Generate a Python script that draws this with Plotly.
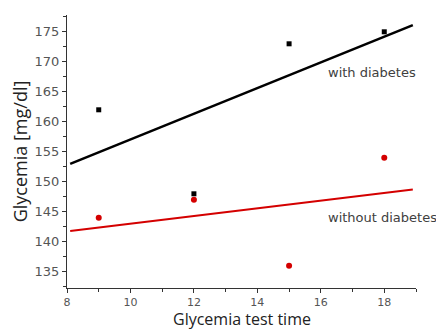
import plotly.graph_objects as go

time_x = [9, 12, 15, 18]
with_diabetes = [162, 148, 173, 175]
without_diabetes = [144, 147, 136, 154]
fit_x = [8.1, 18.9]
with_fit = [153.0, 176.1]
without_fit = [141.8, 148.7]

fig = go.Figure()
fig.add_trace(go.Scatter(x=fit_x, y=with_fit, mode="lines",
                         line=dict(color="black", width=2.5), showlegend=False))
fig.add_trace(go.Scatter(x=fit_x, y=without_fit, mode="lines",
                         line=dict(color="#d40000", width=2), showlegend=False))
fig.add_trace(go.Scatter(x=time_x, y=with_diabetes, mode="markers",
                         marker=dict(symbol="square", size=5, color="black"), showlegend=False))
fig.add_trace(go.Scatter(x=time_x, y=without_diabetes, mode="markers",
                         marker=dict(symbol="circle", size=6, color="#d40000"), showlegend=False))

fig.add_annotation(x=17.6, y=168.2, text="with diabetes", showarrow=False,
                   font=dict(family="DejaVu Sans", size=13, color="#404040"))
fig.add_annotation(x=17.95, y=144.0, text="without diabetes", showarrow=False,
                   font=dict(family="DejaVu Sans", size=13, color="#404040"))
fig.add_annotation(x=0.5, xref="paper", y=0, yref="paper", yshift=-43, yanchor="bottom",
                   text="Glycemia test time", showarrow=False, borderpad=0,
                   font=dict(family="Open Sans", size=16, color="#222"))

axis_common = dict(showgrid=False, zeroline=False, showline=True, linecolor="#333",
                   linewidth=1.2, ticks="outside", ticklen=4, tickwidth=1.2, tickcolor="#333",
                   automargin=False)
fig.update_xaxes(range=[8, 19], tickvals=[8, 10, 12, 14, 16, 18],
                 tickfont=dict(family="DejaVu Sans", size=11, color="#555"),
                 minor=dict(ticks="outside", ticklen=3, tickcolor="#333", dtick=1, tick0=8),
                 **axis_common)
fig.update_yaxes(range=[132.3, 177.8], tickvals=[135, 140, 145, 150, 155, 160, 165, 170, 175],
                 tickfont=dict(family="DejaVu Sans", size=13, color="#555"),
                 minor=dict(ticks="outside", ticklen=3, tickcolor="#333", dtick=2.5, tick0=135),
                 title=dict(text="Glycemia [mg/dl]", standoff=4,
                            font=dict(family="Open Sans", size=18, color="#222")),
                 **axis_common)
fig.update_layout(width=436, height=323, margin=dict(l=59, r=28, t=7, b=43),
                  plot_bgcolor="white", paper_bgcolor="white")
fig.write_html("out.html")
